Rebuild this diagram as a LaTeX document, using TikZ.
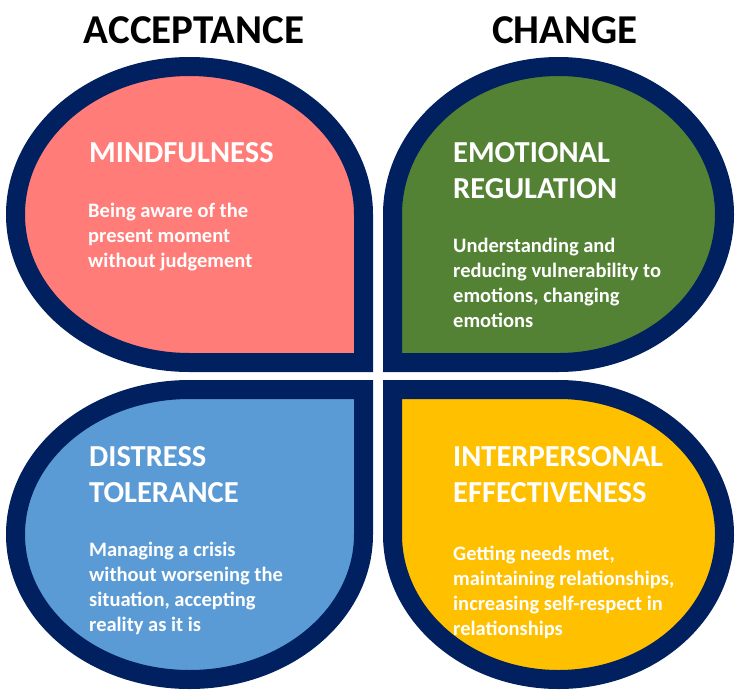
\documentclass[tikz,border=0pt]{standalone}
\usepackage{fontspec}
\setmainfont{Carlito}
\definecolor{navy}{HTML}{002060}
\definecolor{petalpink}{HTML}{FF7C78}
\definecolor{petalgreen}{HTML}{548235}
\definecolor{petalblue}{HTML}{5B9BD5}
\definecolor{petalgold}{HTML}{FFC000}
\tikzset{
  petal/.style={draw=navy, line width=19pt, line join=miter},
  title/.style={anchor=base, inner sep=0pt, font=\bfseries\fontsize{41}{46}\selectfont, text=black},
  heading/.style={anchor=base west, inner sep=0pt, align=left, text=white,
    font=\bfseries\fontsize{30.5}{36.5}\selectfont},
  body/.style={anchor=base west, inner sep=0pt, align=left, text=white,
    font=\bfseries\fontsize{20.5}{24.7}\selectfont},
}
% #1 centre, #2 x radius, #3 y radius, #4 start angle of the rounded part, #5 sharp corner, #6 fill
\newcommand{\petalshape}[6]{%
  \path[petal, fill=#6] #1 ++(#4:#2 and #3)
    arc[start angle=#4, delta angle=270, x radius=#2, y radius=#3] -- #5 -- cycle;}
\begin{document}
\begin{tikzpicture}[x=1pt, y=-1pt]
\useasboundingbox (0,0) rectangle (736,691);
\fill[white] (0,0) rectangle (736,691);

% four petals, each with its sharp corner toward the middle
\petalshape{(189.5,214.5)}{174}{148}{90}{(363.5,362.5)}{petalpink}
\petalshape{(558.5,214.5)}{166}{148}{180}{(392.5,362.5)}{petalgreen}
\petalshape{(189.5,534.5)}{174}{145}{0}{(363.5,389.5)}{petalblue}
\petalshape{(558.5,534.5)}{166}{145}{270}{(392.5,389.5)}{petalgold}

% column titles
\node[title] (acc) at (194,43) {ACCEPTANCE};
\node[title] (chg) at (565,43) {CHANGE};

% multi-line nodes are placed by the baseline of their last line

% mindfulness
\node[heading] (mh) at (89,162) {MINDFULNESS};
\node[body] (mb) at (88,267) {Being aware of the\\present moment\\without judgement};

% emotional regulation
\node[heading] (eh) at (453,198.5) {EMOTIONAL\\REGULATION};
\node[body] (eb) at (453,327) {Understanding and\\reducing vulnerability to\\emotions, changing\\emotions};

% distress tolerance
\node[heading] (dh) at (89,502.5) {DISTRESS\\TOLERANCE};
\node[body] (db) at (89,631) {Managing a crisis\\without worsening the\\situation, accepting\\reality as it is};

% interpersonal effectiveness
\node[heading] (ih) at (453,502.5) {INTERPERSONAL\\EFFECTIVENESS};
\node[body] (ib) at (453,635) {Getting needs met,\\maintaining relationships,\\increasing self-respect in\\relationships};
\end{tikzpicture}
\end{document}
